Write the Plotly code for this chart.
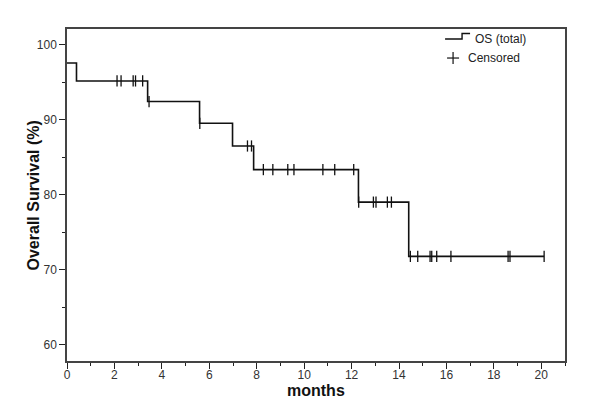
import plotly.graph_objects as go
import numpy as np

# Kaplan-Meier step data (months, survival %)
event_times = [0.0, 0.40, 3.40, 5.59, 6.98, 7.87, 12.29, 14.41, 20.12]
survival = [97.57, 95.17, 92.42, 89.52, 86.49, 83.34, 79.00, 71.76, 71.76]

# Censored observation times (months)
censor_times = [2.11, 2.28, 2.79, 2.89, 3.19, 3.46, 5.60, 7.61, 7.78,
                8.28, 8.68, 9.31, 9.57, 10.79, 11.29, 12.09, 12.30,
                12.92, 13.03, 13.51, 13.68, 14.48, 14.79, 15.31, 15.38,
                15.59, 16.19, 18.60, 18.68, 20.12]

x_ticks = list(range(0, 21, 2))
y_ticks = [60, 70, 80, 90, 100]


def level_at(t):
    idx = np.searchsorted(event_times, t, side="right") - 1
    return survival[max(idx, 0)]


censor_vals = [level_at(t) for t in censor_times]

# window is 600x411; page body has an 8px default margin
OFF = 8
W, H = 600 - OFF, 411 - OFF
L, R, T, B = 66.7, 565.0, 29.0, 360.7  # plot area in window pixels

fig = go.Figure()
fig.add_trace(go.Scatter(
    x=event_times, y=survival, mode="lines", line_shape="hv",
    line=dict(color="#111111", width=1.6), name="OS (total)", showlegend=False,
    hoverinfo="skip"))
fig.add_trace(go.Scatter(
    x=censor_times, y=censor_vals, mode="markers", name="Censored",
    marker=dict(symbol="line-ns-open", size=8, color="#111111",
                line=dict(color="#111111", width=1.3)),
    showlegend=False))


def px(xp):
    return (xp - L) / (R - L)


def py(yp):
    return (B - yp) / (B - T)


# custom legend
shapes = []
shapes.append(dict(type="path", xref="paper", yref="paper",
                   path=f"M {px(445)},{py(39)} L {px(462)},{py(39)} L {px(462)},{py(33.5)} L {px(470)},{py(33.5)}",
                   line=dict(color="#111111", width=1.4)))
shapes.append(dict(type="line", xref="paper", yref="paper",
                   x0=px(447), x1=px(459), y0=py(58), y1=py(58),
                   line=dict(color="#111111", width=1.2)))
shapes.append(dict(type="line", xref="paper", yref="paper",
                   x0=px(453), x1=px(453), y0=py(52), y1=py(64),
                   line=dict(color="#111111", width=1.2)))

annotations = [
    dict(text="OS (total)", xref="paper", yref="paper", x=px(473), y=py(38.5),
         xanchor="left", yanchor="middle", showarrow=False,
         font=dict(family="Liberation Sans, Arial", size=12, color="#222")),
    dict(text="Censored", xref="paper", yref="paper", x=px(466), y=py(58),
         xanchor="left", yanchor="middle", showarrow=False,
         font=dict(family="Liberation Sans, Arial", size=12, color="#222")),
    dict(text="<b>months</b>", xref="paper", yref="paper", x=0.5, y=py(390),
         xanchor="center", yanchor="middle", showarrow=False,
         font=dict(family="Liberation Sans, Arial", size=16, color="#111")),
    dict(text="<b>Overall Survival (%)</b>", xref="paper", yref="paper",
         x=px(33), y=py(195), textangle=-90,
         xanchor="center", yanchor="middle", showarrow=False,
         font=dict(family="Liberation Sans, Arial", size=16, color="#111")),
]

fig.update_layout(
    width=W, height=H,
    margin=dict(l=L - OFF, r=600 - R, t=T - OFF, b=411 - B, pad=0),
    paper_bgcolor="white", plot_bgcolor="white",
    shapes=shapes, annotations=annotations,
    font=dict(family="Liberation Sans, Arial", size=12, color="#333"),
)
fig.update_xaxes(
    range=[0, 21], tickvals=x_ticks, ticks="outside", ticklen=6, tickwidth=1.3,
    tickcolor="#222", showline=True, linecolor="#444", linewidth=1.5, mirror=True,
    showgrid=False, zeroline=False, ticklabelstandoff=-4,
    minor=dict(dtick=1, ticks="outside", ticklen=3, tickwidth=1.2, tickcolor="#222"),
    tickfont=dict(size=12, color="#333"))
fig.update_yaxes(
    range=[57.8, 102.1], tickvals=y_ticks, ticks="outside", ticklen=6, tickwidth=1.3,
    tickcolor="#222", showline=True, linecolor="#444", linewidth=1.5, mirror=True,
    showgrid=False, zeroline=False,
    minor=dict(dtick=5, ticks="outside", ticklen=3, tickwidth=1.2, tickcolor="#222"),
    tickfont=dict(size=12, color="#333"))

fig.write_html("out.html")
